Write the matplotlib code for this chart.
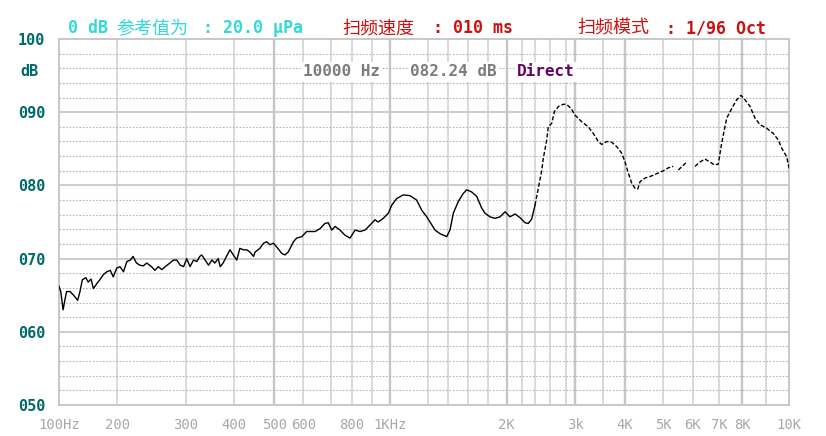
import numpy as np
import matplotlib
matplotlib.use('Agg')
import matplotlib.pyplot as plt

# Frequency response sweep (1/96 oct, 0 dB = 20 uPa)
freq_hz = [100, 103, 107, 110, 113, 119, 125, 129, 132, 136, 140, 146, 150, 155, 159, 165,
           170, 176, 182, 188, 193, 199, 204, 209, 214, 219, 223, 228, 233, 238, 243, 250,
           255, 260, 265, 270, 277, 282, 287, 292, 297, 302, 309, 316, 323, 329, 333, 340,
           347, 354, 360, 367, 371, 377, 384, 391, 406, 414, 423, 431, 439, 448, 452, 464,
           473, 481, 489, 498, 508, 526, 537, 548,
           566, 577, 595, 612, 625, 643, 661, 679, 691, 705, 721, 744, 768, 792, 817, 842,
           867, 892, 918, 936, 963, 991, 1009, 1035, 1069, 1104, 1139, 1166, 1192, 1217, 1267,
           1317, 1384, 1417, 1450, 1500, 1550, 1584, 1634, 1684, 1734, 1767, 1819, 1873, 1927,
           1982, 2044,
           2111, 2177, 2250, 2299, 2350, 2400, 2444, 2489,
           2511, 2556, 2577, 2623, 2657, 2711, 2777, 2834, 2920, 3000, 3121, 3240, 3330, 3421,
           3482, 3590, 3702, 3814, 3926, 4000, 4086, 4175, 4261, 4332, 4392, 4522, 4697, 4869,
           5000, 5170, 5340, 5420, 5510, 5796, 5940, 6086, 6274, 6462, 6650, 6812, 6962, 7104,
           7322, 7539, 7757, 7943, 8115, 8329, 8542, 8756, 9042, 9322, 9534, 9678, 9890, 10000]
level_db = [66.2, 65.5, 63.0, 64.3, 65.5, 65.5, 65.0, 64.6, 64.3, 65.5, 67.1, 67.4, 66.8, 67.2, 65.9, 66.6,
            67.1, 67.8, 68.2, 68.4, 67.5, 68.7, 68.9, 68.2, 69.6, 69.8, 70.3, 69.4, 69.1, 69.0, 69.4, 68.9,
            68.4, 68.9, 68.5, 68.9, 69.4, 69.8, 69.8, 69.1, 68.9, 70.0, 68.9, 69.8, 69.6, 70.3, 70.5, 69.8,
            69.1, 69.8, 69.4, 70.0, 68.9, 69.4, 70.3, 71.2, 69.8, 71.4, 71.2, 71.2, 70.9, 70.3, 70.9, 71.4,
            72.1, 72.3, 71.9, 72.1, 71.6, 70.7, 70.5, 70.9,
            72.3, 72.8, 73.0, 73.7, 73.7, 73.7, 74.1, 74.8, 74.9, 73.9, 74.4, 73.9, 73.2, 72.8, 73.9, 73.7,
            73.9, 74.6, 75.3, 75.0, 75.5, 76.2, 77.3, 78.2, 78.7, 78.6, 78.0, 76.6, 75.7, 75.0, 73.9,
            73.4, 73.0, 73.9, 76.2, 77.8, 78.9, 79.4, 79.1, 78.5, 76.9, 76.2, 75.7, 75.5, 75.7,
            76.4, 75.7,
            76.1, 75.6, 74.9, 74.8, 75.4, 77.3, 79.6, 82.0,
            83.7, 86.2, 88.0, 88.5, 90.1, 90.8, 91.1, 91.0, 90.5, 89.6, 88.7, 88.0, 87.1, 86.0,
            85.6, 86.0, 85.9, 85.3, 84.4, 83.2, 81.7, 80.3, 79.6, 79.5, 80.5, 81.0, 81.3, 81.7,
            82.0, 82.4, 82.6, np.nan, 82.1, 83.2, np.nan, 82.6, 83.2, 83.6, 83.2, 82.8, 82.9, 85.8,
            89.2, 90.5, 91.7, 92.3, 91.7, 90.8, 89.2, 88.3, 87.8, 87.1, 86.2, 85.1, 83.9, 82.2]

# analyser's own frequency axis: grid frequencies and their screen position
grid_hz = [100, 200, 300, 400, 500, 600, 700, 800, 900, 1000, 1200, 1400, 1600, 1800, 2000,
           2200, 2400, 2600, 2800, 3000, 3500, 4000, 5000, 6000, 7000, 8000, 9000, 10000]
grid_pos = [59, 117.3, 185.7, 234.3, 274.3, 303.3, 330.7, 351.7, 371.7, 390, 428.3, 448.3, 468.3,
            488.3, 506.7, 521.7, 535, 550, 565.5, 575, 602.7, 625, 663.3, 692.7, 719.3, 742.3,
            765.7, 789.3]
bold_hz = [500, 1000, 2000, 3000, 4000, 8000]

tick_hz = [100, 200, 300, 400, 500, 600, 800, 1000, 2000, 3000, 4000, 5000, 6000, 7000, 8000, 10000]
tick_lab = ['100Hz', '200', '300', '400', '500', '600', '800', '1KHz', '2K', '3k', '4K', '5K',
            '6K', '7K', '8K', '10K']
ytick_db = [50, 60, 70, 80, 90, 100]

mono = ['DejaVu Sans Mono', 'Noto Sans CJK SC']

fig = plt.figure(figsize=(8.26, 4.36), dpi=100)
W, H = 826, 436
ax = fig.add_axes([59 / W, 31 / H, (789.3 - 59) / W, (405 - 39) / H])

fwd = lambda f: np.interp(f, grid_hz, grid_pos)
inv = lambda p: np.interp(p, grid_pos, grid_hz)
ax.set_xscale('function', functions=(fwd, inv))
ax.set_xlim(100, 10000)
ax.set_ylim(50, 100)

# grid
for f in grid_hz[1:-1]:
    ax.axvline(f, color='#c6c6c6' if f in bold_hz else '#d0d0d0',
               lw=1.7 if f in bold_hz else 1.1, zorder=1)
for d in range(52, 100, 2):
    if d % 10 == 0:
        ax.axhline(d, color='#c8c8c8', lw=1.3, zorder=1)
    else:
        ax.axhline(d, color='#b4b4b4', lw=0.8, ls=(0, (1.5, 1.5)), zorder=1)

f = np.array(freq_hz, dtype=float)
L = np.array(level_db, dtype=float)
lo = f <= 2400
hi = f >= 2400
ax.plot(f[lo], L[lo], color='black', lw=1.0, zorder=3)
ax.plot(f[hi], L[hi], color='black', lw=1.0, ls=(0, (3, 1.5)), zorder=3)

for s in ax.spines.values():
    s.set_color('#c4c4c4')
    s.set_linewidth(1.3)

ax.set_xticks(tick_hz)
ax.set_xticklabels(tick_lab)
ax.xaxis.set_minor_locator(matplotlib.ticker.NullLocator())
ax.set_yticks(ytick_db)
ax.set_yticklabels(['%03d' % v for v in ytick_db])
ax.tick_params(length=0)
ax.tick_params(axis='x', pad=9, labelsize=10, labelcolor='#a8a8a8')
ax.tick_params(axis='y', pad=10, labelsize=11, labelcolor='#006a6a')
for t in ax.get_xticklabels():
    t.set_family(mono)
for t in ax.get_yticklabels():
    t.set_family(mono)
    t.set_fontweight('bold')

fig.text(20 / W, 1 - 72 / H, 'dB', color='#006a6a', family=mono, fontsize=11,
         fontweight='bold', va='center')

# header: (x pixel, text, weight, colour)
hy = 1 - 28 / H
cyan, red = '#33d9d9', '#cc1111'
header = [(68, '0 dB', 'bold', cyan), (116, '参考值为', 'normal', cyan),
          (203, ': 20.0 μPa', 'bold', cyan),
          (342, '扫频速度', 'normal', red), (433, ': 010 ms', 'bold', red),
          (577, '扫频模式', 'normal', red), (666, ': 1/96 Oct', 'bold', red)]
for x, s, w, c in header:
    fig.text(x / W, hy, s, color=c, family=mono, fontsize=12 if w == 'bold' else 13,
             fontweight=w, va='center')

# cursor readout
ry = 1 - 72 / H
box = dict(facecolor='white', edgecolor='none', pad=1.5)
fig.text(303 / W, ry, '10000 Hz', color='#7c7c7c', family=mono, fontsize=11.5,
         fontweight='bold', va='center', bbox=box)
fig.text(410 / W, ry, '082.24 dB', color='#7c7c7c', family=mono, fontsize=11.5,
         fontweight='bold', va='center', bbox=box)
fig.text(517 / W, ry, 'Direct', color='#660066', family=mono, fontsize=11.5,
         fontweight='bold', va='center', bbox=box)

fig.savefig('out.png', dpi=100, facecolor='white')
